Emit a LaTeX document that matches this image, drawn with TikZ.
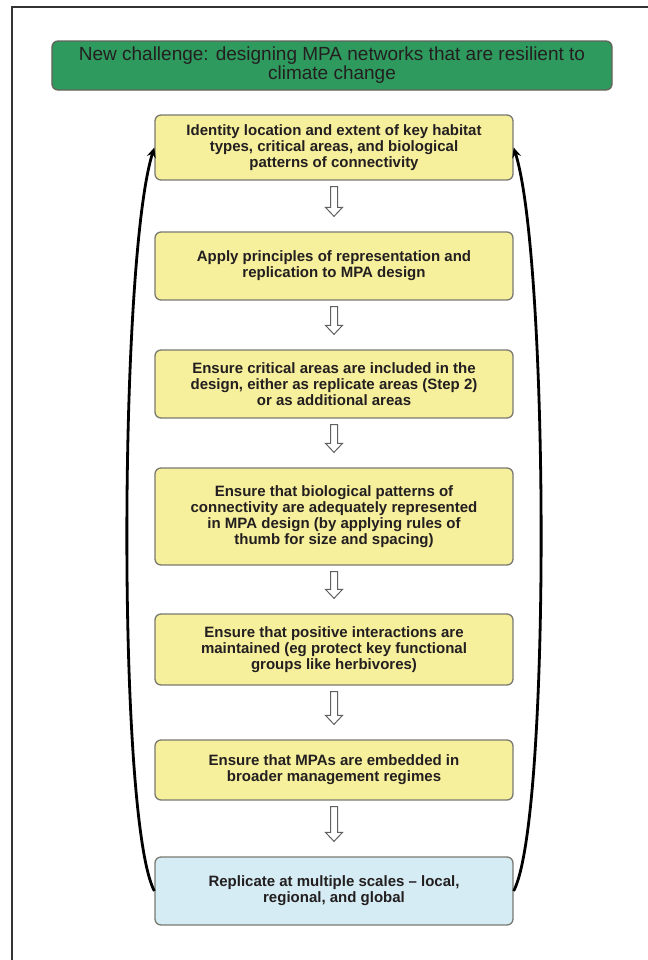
\documentclass[tikz,border=0pt]{standalone}
\usepackage{fontspec}
\setmainfont{Liberation Sans}
\usetikzlibrary{arrows.meta,calc}
\definecolor{hdrgreen}{HTML}{2F9A5E}
\definecolor{boxyellow}{HTML}{F6EF9C}
\definecolor{boxblue}{HTML}{D5ECF4}
\definecolor{txt}{HTML}{231F20}
\definecolor{edge}{HTML}{7A7A72}
\tikzset{
  stepbox/.style={draw=edge, line width=1.3bp, rounded corners=6bp, fill=boxyellow,
    minimum width=358bp, align=center, text=txt, inner sep=2bp,
    font=\fontsize{15bp}{15.8bp}\selectfont\bfseries},
  lastbox/.style={stepbox, fill=boxblue},
  hdrbox/.style={draw=edge!80!black, line width=1.3bp, rounded corners=6bp, fill=hdrgreen,
    minimum width=560bp, minimum height=49bp, align=center, text=txt, inner sep=2bp,
    font=\fontsize{19bp}{19bp}\selectfont},
  hollow/.style={draw=gray!75!black, line width=1bp, fill=white, line join=miter},
  loop/.style={line width=2.8bp, black, -{Stealth[length=10bp,width=9bp]}}
}
\newcommand\holarrow[2]{%
  \path[hollow] let \p1=(#1.south), \p2=(#2.north) in
    (\x1-3.5bp,\y1-6bp) -- (\x1-3.5bp,\y2+24bp) -- (\x1-8.5bp,\y2+24bp) -- (\x1,\y2+15bp)
    -- (\x1+8.5bp,\y2+24bp) -- (\x1+3.5bp,\y2+24bp) -- (\x1+3.5bp,\y1-6bp) -- cycle;}
\begin{document}
\begin{tikzpicture}[x=1bp,y=-1bp]
\useasboundingbox (0,0) rectangle (648,960);
\draw[line width=1.5bp, gray!40!black] (648,7) -- (12,7) -- (12,960);
\node[hdrbox] (hdr) at (332,65.5) {New challenge: designing MPA networks that are resilient to\\climate change};
\node[stepbox, minimum height=65bp] (b1) at (334,147.5) {Identity location and extent of key habitat\\types, critical areas, and biological\\patterns of connectivity};
\node[stepbox, minimum height=68bp] (b2) at (334,266) {Apply principles of representation and\\replication to MPA design};
\node[stepbox, minimum height=68bp] (b3) at (334,384) {Ensure critical areas are included in the\\design, either as replicate areas (Step 2)\\or as additional areas};
\node[stepbox, minimum height=97bp] (b4) at (334,516.5) {Ensure that biological patterns of\\connectivity are adequately represented\\in MPA design (by applying rules of\\thumb for size and spacing)};
\node[stepbox, minimum height=71bp] (b5) at (334,649.5) {Ensure that positive interactions are\\maintained (eg protect key functional\\groups like herbivores)};
\node[stepbox, minimum height=60bp] (b6) at (334,770) {Ensure that MPAs are embedded in\\broader management regimes};
\node[lastbox, minimum height=68bp] (b7) at (334,891) {Replicate at multiple scales -- local,\\regional, and global};
\holarrow{b1}{b2}
\holarrow{b2}{b3}
\holarrow{b3}{b4}
\holarrow{b4}{b5}
\holarrow{b5}{b6}
\holarrow{b6}{b7}
\draw[loop] (b7.west) .. controls (117,820) and (119,260) .. (b1.west);
\draw[loop] (b7.east) .. controls (551,820) and (549,260) .. (b1.east);
\end{tikzpicture}
\end{document}
